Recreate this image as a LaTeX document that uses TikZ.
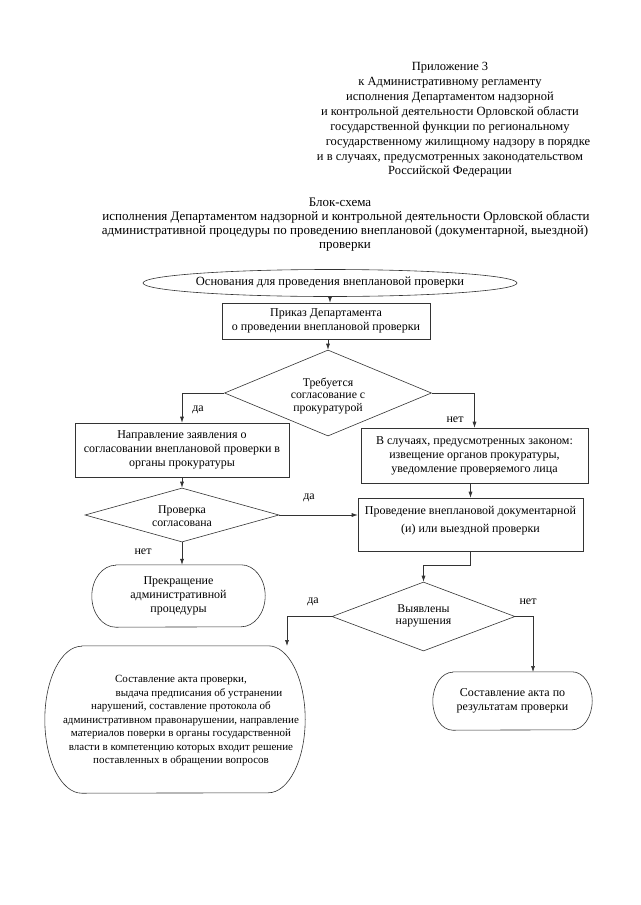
\documentclass[tikz,border=0pt]{standalone}
\usepackage{fontspec}
\setmainfont{Liberation Serif}
\usetikzlibrary{shapes.geometric,arrows.meta,calc}
\newcommand\mystadium[3]{%
  \draw[lw] ([xshift=#2]#1.north west) -- ([xshift=-#2]#1.north east)
    arc[start angle=90,end angle=-90,x radius=#2,y radius=#3]
    -- ([xshift=#2]#1.south west)
    arc[start angle=270,end angle=90,x radius=#2,y radius=#3] -- cycle;}
\begin{document}
\begin{tikzpicture}[x=1pt,y=1pt,
  lw/.style={line width=0.6pt, draw=black!80},
  boxnode/.style={lw, rectangle, inner sep=0pt, align=center, font=\fontsize{12}{14}\selectfont},
  dianode/.style={lw, diamond, inner sep=0pt},
  dtext/.style={align=center, font=\fontsize{11.8}{12.5}\selectfont},
  stext/.style={align=center, font=\fontsize{12}{14}\selectfont},
  lbl/.style={font=\fontsize{12}{14}\selectfont},
  arr/.style={lw, -{Latex[length=6pt,width=4pt]}},
  htext/.style={align=center, font=\fontsize{12.5}{14.9}\selectfont},
  ttext/.style={font=\fontsize{13}{14}\selectfont}
]
\useasboundingbox[fill=white] (0,0) rectangle (640,-905);

% header
\node[htext] (hdr) at (450,-120) {Приложение 3\\
к Административному регламенту\\
исполнения Департаментом надзорной\\
и контрольной деятельности Орловской области\\
государственной функции по региональному\\
\hspace*{16pt}государственному жилищному надзору в порядке\\
и в случаях, предусмотренных законодательством\\
Российской Федерации};

% title
\node[ttext] (ti1) at (340,-202) {Блок-схема};
\node[ttext] (ti2) at (346,-217) {исполнения Департаментом надзорной и контрольной деятельности Орловской области};
\node[ttext] (ti3) at (345,-231.5) {административной процедуры по проведению внеплановой (документарной, выездной)};
\node[ttext] (ti4) at (345,-247) {проверки};

% nodes
\node[lw, ellipse, inner sep=0pt, minimum width=374pt, minimum height=27pt,
  font=\fontsize{12.5}{14}\selectfont] (e0) at (330,-283)
  {\makebox[0pt]{Основания для проведения внеплановой проверки}};
\node[boxnode, minimum width=208pt, minimum height=36pt] (b1) at (326,-321)
  {Приказ Департамента\\о проведении внеплановой проверки};
\node[dianode, minimum width=207pt, minimum height=86pt] (d1) at (328,-393) {};
\node[dtext] (d1t) at (328,-396) {Требуется\\согласование с\\прокуратурой};
\node[boxnode, minimum width=214pt, minimum height=54pt] (b2) at (182,-450)
  {Направление заявления о\\согласовании внеплановой проверки в\\органы прокуратуры};
\node[boxnode, minimum width=227pt, minimum height=55pt] (b3) at (474.5,-455.5)
  {В случаях, предусмотренных законом:\\извещение органов прокуратуры,\\уведомление проверяемого лица};
\node[dianode, minimum width=194pt, minimum height=54pt] (d2) at (182,-515) {};
\node[dtext] (d2t) at (182,-516) {Проверка\\согласована};
\node[boxnode, minimum width=225pt, minimum height=53pt] (b4) at (470.5,-524.5) {};
\node[stext, anchor=north, font=\fontsize{12}{18}\selectfont] (b4t) at ([yshift=-5pt]b4.north)
  {Проведение внеплановой документарной\\(и) или выездной проверки};
\node[stext, minimum width=173pt, minimum height=62pt, inner sep=0pt] (t1) at (178.5,-596)
  {Прекращение\\административной\\процедуры};
\mystadium{t1}{24pt}{31pt}
\node[dianode, minimum width=183pt, minimum height=69pt] (d3) at (423.5,-616.5) {};
\node[dtext] (d3t) at (423.5,-616) {Выявлены\\нарушения};
\node[minimum width=260pt, minimum height=147pt, inner sep=0pt] (t2) at (175,-719.5) {};
\mystadium{t2}{37pt}{73.5pt}
\node[align=center, font=\fontsize{11}{13.5}\selectfont] (t2t) at (181,-721)
  {Составление акта проверки,\\
  \hspace*{36pt}выдача предписания об устранении\\
  нарушений, составление протокола об\\
  административном правонарушении, направление\\
  материалов поверки в органы государственной\\
  власти в компетенцию которых входит решение\\
  поставленных в обращении вопросов};
\node[stext, minimum width=159pt, minimum height=58pt, inner sep=0pt] (t3) at (512.5,-701)
  {Составление акта по\\результатам проверки};
\mystadium{t3}{20pt}{29pt}

% connector targets
\coordinate (k1) at ($(b4.south)+(0,-14)$);
\coordinate (t2in) at (287,-646);
\coordinate (t3in) at (533,-672);

% connectors
\draw[arr] (e0.south) -- (e0.south |- b1.north);
\draw[arr] (b1.south -| d1.north) -- (d1.north);
\draw[arr] (d1.west) -| (b2.north);
\draw[arr] (d1.east) -| (b3.north);
\draw[arr] (b2.south) -- (d2.north);
\draw[arr] (b4.north |- b3.south) -- (b4.north);
\draw[arr] (d2.east) -- (d2.east -| b4.west);
\draw[arr] (d2.south) -- (d2.south |- t1.north);
\draw[arr] (b4.south) -- (k1) -| (d3.north);
\draw[arr] (d3.west) -| (t2in);
\draw[arr] (d3.east) -| (t3in);

% labels
\node[lbl] (l1) at (198,-410) {да};
\node[lbl] (l2) at (455,-420) {нет};
\node[lbl] (l3) at (309,-498) {да};
\node[lbl] (l4) at (143,-552) {нет};
\node[lbl] (l5) at (313,-602) {да};
\node[lbl] (l6) at (528,-602) {нет};
\end{tikzpicture}
\end{document}
